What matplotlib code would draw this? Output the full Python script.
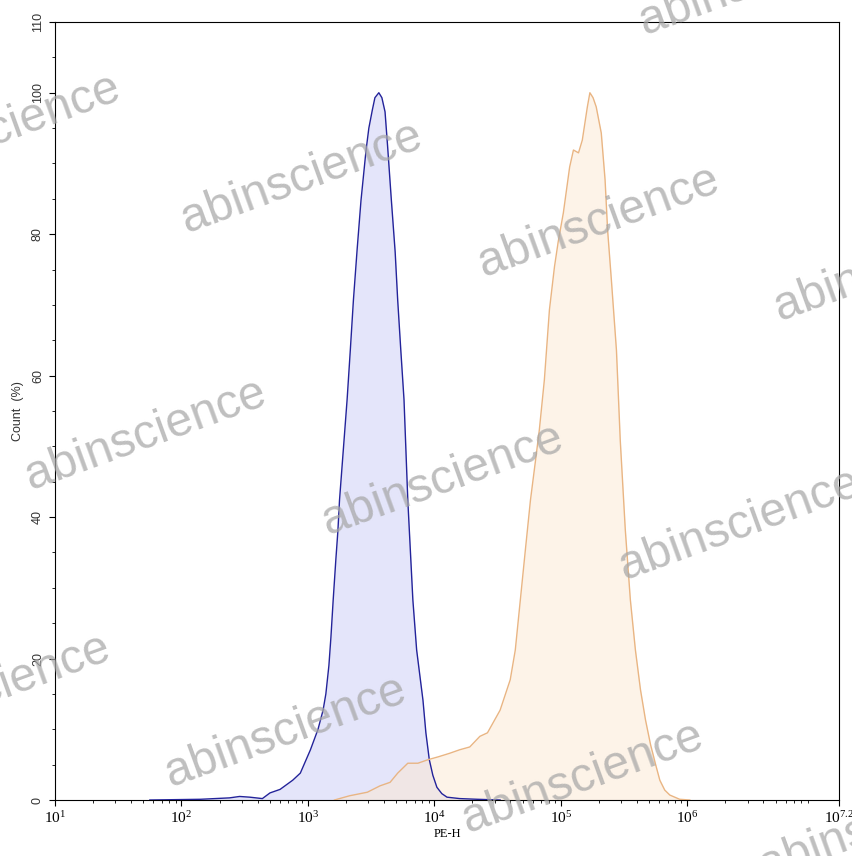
import matplotlib
matplotlib.use("Agg")
import matplotlib.pyplot as plt
import numpy as np
from matplotlib.ticker import FixedLocator, FuncFormatter

plt.rcParams["mathtext.fontset"] = "stix"

# log10(PE-H) positions and Count (%)
blue_log = [1.75, 2.15, 2.38, 2.46, 2.54, 2.64, 2.70, 2.78, 2.88, 2.94, 3.02, 3.08,
            3.12, 3.142, 3.166, 3.182, 3.20, 3.221, 3.237, 3.25, 3.28, 3.31, 3.335,
            3.36, 3.39, 3.42, 3.46, 3.482, 3.51, 3.53, 3.561, 3.585, 3.61, 3.63,
            3.66, 3.69, 3.71, 3.735, 3.76, 3.79, 3.83, 3.86, 3.91, 3.933, 3.96, 3.988,
            4.02, 4.059, 4.10, 4.20, 4.34, 4.52]
blue_count = [0, 0.1, 0.3, 0.5, 0.4, 0.2, 1.0, 1.5, 2.8, 3.8, 7.1, 10.0,
              12.7, 15.0, 19.0, 23.0, 28.3, 34.0, 38.0, 42.4, 49.5, 56.6, 63.5,
              70.7, 78.0, 84.8, 91.9, 95.0, 97.6, 99.3, 100, 99.3, 97.3, 92.5,
              84.8, 77.5, 70.7, 63.5, 56.6, 42.4, 28.3, 21.2, 14.1, 9.5, 5.7, 3.5,
              1.8, 0.9, 0.4, 0.2, 0.1, 0]

orange_log = [3.21, 3.23, 3.33, 3.47, 3.57, 3.65, 3.71, 3.79, 3.87, 3.95, 4.03, 4.12,
              4.20, 4.28, 4.36, 4.42, 4.52, 4.60, 4.64, 4.68, 4.72, 4.76, 4.80, 4.83,
              4.87, 4.91, 4.95, 4.98, 5.02, 5.07, 5.10, 5.14, 5.17, 5.21, 5.230, 5.255,
              5.28, 5.32, 5.35, 5.37, 5.40, 5.44, 5.47, 5.51, 5.55, 5.59, 5.63, 5.67,
              5.71, 5.75, 5.783, 5.822, 5.862, 5.94, 6.02]
orange_count = [0, 0.1, 0.6, 1.1, 2.0, 2.5, 3.8, 5.2, 5.2, 5.7, 6.1, 6.6,
                7.1, 7.5, 9.0, 9.5, 12.7, 17.0, 21.2, 28.3, 35.4, 42.4, 48.0, 52.3,
                59.4, 69.3, 75.4, 79.0, 83.0, 89.5, 91.9, 91.5, 93.3, 98.0, 100, 99.3,
                98.0, 94.3, 87.7, 80.6, 73.5, 63.6, 50.9, 38.2, 28.3, 21.2, 15.6, 11.3,
                7.8, 5.0, 2.8, 1.4, 0.7, 0.1, 0]

x_ticks = [1, 2, 3, 4, 5, 6, 7.2]
y_ticks = [0, 20, 40, 60, 80, 100, 110]

fig = plt.figure(figsize=(8.53, 8.56), dpi=100)
ax = fig.add_axes([55 / 853, 56 / 856, 784 / 853, 778 / 856])

bx = 10 ** np.array(blue_log)
ox = 10 ** np.array(orange_log)
ax.fill_between(bx, blue_count, color="#e4e5fa", lw=0, zorder=1)
ax.fill_between(ox, orange_count, color="#fde8d2", alpha=0.5, lw=0, zorder=2)
ax.plot(bx, blue_count, color="#23239a", lw=1.0, zorder=3)
ax.plot(ox, orange_count, color="#e9b583", lw=1.0, zorder=3)

ax.set_xscale("log")
ax.set_xlim(10, 10 ** 7.2)
ax.set_ylim(0, 110)

ax.xaxis.set_major_locator(FixedLocator([10 ** v for v in x_ticks]))
ax.xaxis.set_major_formatter(FuncFormatter(
    lambda v, p: r"$\mathregular{10^{%s}}$" % ("%g" % np.log10(v))))
minors = [m * 10 ** d for d in range(1, 8) for m in range(2, 10) if m * 10 ** d < 10 ** 7.2]
ax.xaxis.set_minor_locator(FixedLocator(minors))
ax.yaxis.set_major_locator(FixedLocator(y_ticks))
ax.yaxis.set_minor_locator(FixedLocator(np.arange(0, 111, 5)))

ax.tick_params(axis="both", which="major", length=4, width=0.8, direction="out")
ax.tick_params(axis="both", which="minor", length=2.5, width=0.6, direction="out")
ax.tick_params(axis="x", labelsize=11, pad=3)
ax.tick_params(axis="y", labelsize=9, pad=4)
for lab in ax.get_xticklabels():
    lab.set_family("Liberation Serif")
for lab in ax.get_yticklabels():
    lab.set_rotation(90)
    lab.set_va("center")
    lab.set_family("Liberation Sans")
    lab.set_color("#333333")

ax.set_xlabel("PE-H", family="Liberation Serif", fontsize=9, labelpad=2)
ax.set_ylabel("Count  (%)", family="Liberation Sans", fontsize=9, labelpad=6, color="#333333")

# watermark
marks = [(760, -20), (0, 130), (302, 178), (599, 222), (895, 266),
         (146, 435), (443, 480), (740, 525), (-10, 690),
         (286, 732), (583, 778), (880, 825)]
for px, py in marks:
    fig.text(px / 853, 1 - py / 856, "abinscience", fontsize=34.5,
             family="Liberation Sans", color="#a6a6a6", alpha=0.72,
             rotation=20, ha="center", va="center", rotation_mode="anchor", zorder=10)

fig.savefig("out.png", dpi=100)
